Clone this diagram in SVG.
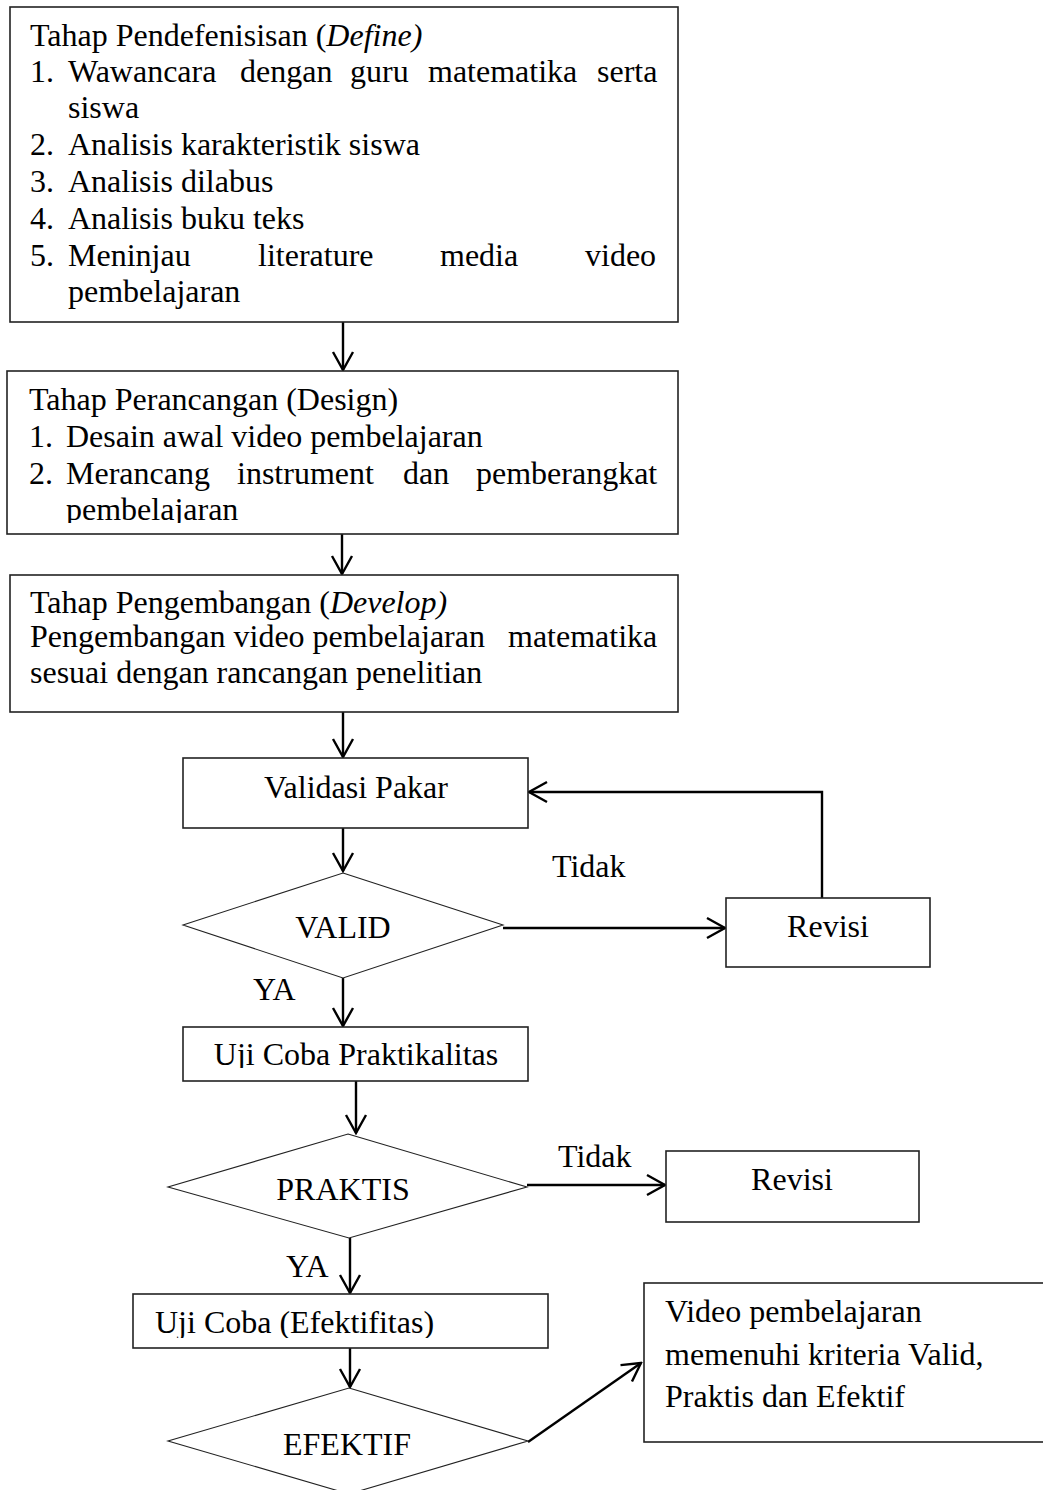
<svg xmlns="http://www.w3.org/2000/svg" width="1043" height="1490" viewBox="0 0 1043 1490">
<style>
  .box { fill: #ffffff; stroke: #222222; stroke-width: 1.6; }
  .dia { fill: #ffffff; stroke: #222222; stroke-width: 1.1; }
  .t { font-family: "Liberation Serif", "Times New Roman", serif; font-size: 32px; fill: #000000; }
  .c { text-anchor: middle; }
  .conn { fill: none; stroke: #000000; stroke-width: 2.4; }
</style>
<defs>
  <marker id="arr" markerUnits="userSpaceOnUse" viewBox="-22 -13 24 26" refX="0" refY="0" markerWidth="24" markerHeight="26" orient="auto">
    <path d="M-18,-10 L0,0 L-18,10" fill="none" stroke="#000000" stroke-width="2.4" stroke-linejoin="miter"/>
  </marker>
  <clipPath id="clipDesign"><rect x="7" y="371" width="671" height="152"/></clipPath>
  <clipPath id="clipUji1"><rect x="183" y="1027" width="345" height="41"/></clipPath>
  <clipPath id="clipUji2"><rect x="133" y="1294" width="415" height="44"/></clipPath>
</defs>

<g id="connectors">
  <line class="conn" x1="343" y1="322" x2="343" y2="370" marker-end="url(#arr)"/>
  <line class="conn" x1="342" y1="534" x2="342" y2="574" marker-end="url(#arr)"/>
  <line class="conn" x1="343" y1="712" x2="343" y2="757" marker-end="url(#arr)"/>
  <line class="conn" x1="343" y1="828" x2="343" y2="871" marker-end="url(#arr)"/>
  <line class="conn" x1="503" y1="928" x2="725" y2="928" marker-end="url(#arr)"/>
  <polyline class="conn" points="822,898 822,792 529,792" marker-end="url(#arr)"/>
  <line class="conn" x1="343" y1="978" x2="343" y2="1026" marker-end="url(#arr)"/>
  <line class="conn" x1="356" y1="1081" x2="356" y2="1133" marker-end="url(#arr)"/>
  <line class="conn" x1="527" y1="1185" x2="665" y2="1185" marker-end="url(#arr)"/>
  <line class="conn" x1="350" y1="1238" x2="350" y2="1293" marker-end="url(#arr)"/>
  <line class="conn" x1="350" y1="1348" x2="350" y2="1387" marker-end="url(#arr)"/>
  <line class="conn" x1="528" y1="1442" x2="641" y2="1363" marker-end="url(#arr)"/>
  <text class="t" x="552" y="877">Tidak</text>
  <text class="t" x="253" y="1000">YA</text>
  <text class="t" x="558" y="1167">Tidak</text>
  <text class="t" x="286" y="1277">YA</text>
</g>

<g id="define">
  <rect class="box" x="10" y="7" width="668" height="315"/>
  <text class="t" x="30" y="46">Tahap Pendefenisisan (<tspan font-style="italic">Define)</tspan></text>
  <text class="t" y="82"><tspan x="30">1.</tspan><tspan x="68">Wawancara</tspan><tspan x="240">dengan</tspan><tspan x="350">guru</tspan><tspan x="428">matematika</tspan><tspan x="597">serta</tspan></text>
  <text class="t" x="68" y="118">siswa</text>
  <text class="t" y="155"><tspan x="30">2.</tspan><tspan x="68">Analisis karakteristik siswa</tspan></text>
  <text class="t" y="192"><tspan x="30">3.</tspan><tspan x="68">Analisis dilabus</tspan></text>
  <text class="t" y="229"><tspan x="30">4.</tspan><tspan x="68">Analisis buku teks</tspan></text>
  <text class="t" y="266"><tspan x="30">5.</tspan><tspan x="68">Meninjau</tspan><tspan x="258">literature</tspan><tspan x="440">media</tspan><tspan x="585">video</tspan></text>
  <text class="t" x="68" y="302">pembelajaran</text>
</g>

<g id="design">
  <rect class="box" x="7" y="371" width="671" height="163"/>
  <g clip-path="url(#clipDesign)">
    <text class="t" x="29" y="410">Tahap Perancangan (Design)</text>
    <text class="t" y="447"><tspan x="29">1.</tspan><tspan x="66">Desain awal video pembelajaran</tspan></text>
    <text class="t" y="484"><tspan x="29">2.</tspan><tspan x="66">Merancang</tspan><tspan x="237">instrument</tspan><tspan x="403">dan</tspan><tspan x="476">pemberangkat</tspan></text>
    <text class="t" x="66" y="520">pembelajaran</text>
  </g>
</g>

<g id="develop">
  <rect class="box" x="10" y="575" width="668" height="137"/>
  <text class="t" x="30" y="613">Tahap Pengembangan (<tspan font-style="italic">Develop)</tspan></text>
  <text class="t" y="647"><tspan x="30">Pengembangan video pembelajaran</tspan><tspan x="508">matematika</tspan></text>
  <text class="t" x="30" y="683">sesuai dengan rancangan penelitian</text>
</g>

<g id="validasi">
  <rect class="box" x="183" y="758" width="345" height="70"/>
  <text class="t c" x="356" y="798">Validasi Pakar</text>
</g>

<g id="valid">
  <polygon class="dia" points="343,873 503,925 343,978 183,925"/>
  <text class="t c" x="343" y="938">VALID</text>
</g>

<g id="revisi1">
  <rect class="box" x="726" y="898" width="204" height="69"/>
  <text class="t c" x="828" y="937">Revisi</text>
</g>

<g id="praktikalitas">
  <rect class="box" x="183" y="1027" width="345" height="54"/>
  <g clip-path="url(#clipUji1)">
    <text class="t c" x="356" y="1065">Uji Coba Praktikalitas</text>
  </g>
</g>

<g id="praktis">
  <polygon class="dia" points="348,1134 527,1187 349,1238 168,1187"/>
  <text class="t c" x="343" y="1200">PRAKTIS</text>
</g>

<g id="revisi2">
  <rect class="box" x="666" y="1151" width="253" height="71"/>
  <text class="t c" x="792" y="1190">Revisi</text>
</g>

<g id="efektifitas">
  <rect class="box" x="133" y="1294" width="415" height="54"/>
  <g clip-path="url(#clipUji2)">
    <text class="t" x="155" y="1333">Uji Coba (Efektifitas)</text>
  </g>
</g>

<g id="efektif">
  <polygon class="dia" points="349,1388 528,1441 349,1494 168,1441"/>
  <text class="t c" x="347" y="1455">EFEKTIF</text>
</g>

<g id="hasil">
  <rect class="box" x="644" y="1283" width="420" height="159"/>
  <text class="t" x="665" y="1322">Video pembelajaran</text>
  <text class="t" x="665" y="1365">memenuhi kriteria Valid,</text>
  <text class="t" x="665" y="1407">Praktis dan Efektif</text>
</g>
</svg>
